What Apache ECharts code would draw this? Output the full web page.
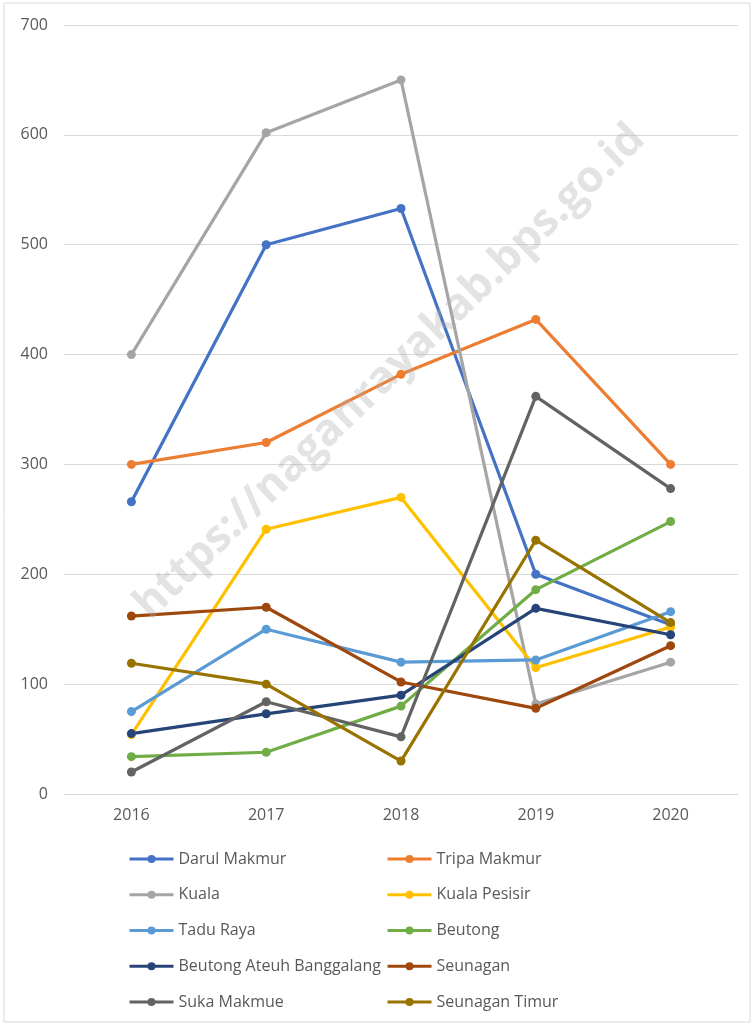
<!DOCTYPE html>
<html>
<head>
<meta charset="utf-8">
<script src="https://cdn.jsdelivr.net/npm/echarts@6/dist/echarts.min.js"></script>
<style>html,body{margin:0;padding:0;background:#fff}#c{width:754px;height:1025px}</style>
</head>
<body>
<div id="c"></div>
<script>
const years = ['2016','2017','2018','2019','2020'];
const seriesNames = ['Darul Makmur','Tripa Makmur','Kuala','Kuala Pesisir','Tadu Raya','Beutong','Beutong Ateuh Banggalang','Seunagan','Suka Makmue','Seunagan Timur'];
const darulMakmur = [266, 500, 533, 200, 154];
const tripaMakmur = [300, 320, 382, 432, 300];
const kuala = [400, 602, 650, 82, 120];
const kualaPesisir = [54, 241, 270, 115, 152];
const taduRaya = [75, 150, 120, 122, 166];
const beutong = [34, 38, 80, 186, 248];
const beutongAteuh = [55, 73, 90, 169, 145];
const seunagan = [162, 170, 102, 78, 135];
const sukaMakmue = [20, 84, 52, 362, 278];
const seunaganTimur = [119, 100, 30, 231, 156];
const colors = ['#4472C4','#ED7D31','#A5A5A5','#FFC000','#5B9BD5','#70AD47','#264478','#9E480E','#636363','#997300'];
const allData = [darulMakmur,tripaMakmur,kuala,kualaPesisir,taduRaya,beutong,beutongAteuh,seunagan,sukaMakmue,seunaganTimur];

const chart = echarts.init(document.getElementById('c'));
const series = seriesNames.map((n,i)=>({
  name:n, type:'line', data:allData[i],
  symbol:'circle', symbolSize:9,
  lineStyle:{width:3.2, color:colors[i]},
  itemStyle:{color:colors[i]},
  emphasis:{disabled:true}
}));
const font = '"Open Sans", sans-serif';
const legendText = {color:'#595959', fontSize:16, lineHeight:16, fontFamily:font};
const legendCommon = {orient:'vertical', top:851, height:170, padding:0, itemWidth:44, itemHeight:10, itemGap:19.75,
  textStyle:legendText, lineStyle:{width:3}, itemStyle:{borderWidth:0}};
chart.setOption({
  animation:false,
  color:colors,
  graphic:[
    {type:'rect', shape:{x:4,y:3,width:746,height:1019}, style:{fill:'none', stroke:'#d9d9d9', lineWidth:1}, z:-1},
    {type:'text', x:390, y:372, rotation:Math.PI*44/180, style:{text:'https://naganrayakab.bps.go.id', fill:'rgba(175,175,175,0.35)', font:'bold 44px "Open Sans", sans-serif', align:'center', verticalAlign:'middle'}, z:100}
  ],
  grid:{left:64, right:16, top:25, bottom:231},
  xAxis:{type:'category', data:years, boundaryGap:true,
    axisLine:{lineStyle:{color:'#d9d9d9'}}, axisTick:{show:false},
    axisLabel:{color:'#595959', fontSize:16, margin:13, fontFamily:font}},
  yAxis:{type:'value', min:0, max:700, interval:100,
    axisLine:{show:false}, axisTick:{show:false},
    splitLine:{lineStyle:{color:'#d9d9d9'}},
    axisLabel:{color:'#595959', fontSize:16, margin:16, fontFamily:font}},
  legend:[
    Object.assign({left:128, data:seriesNames.filter((_,i)=>i%2===0)}, legendCommon),
    Object.assign({left:386, data:seriesNames.filter((_,i)=>i%2===1)}, legendCommon)
  ],
  series:series
});
</script>
</body>
</html>
